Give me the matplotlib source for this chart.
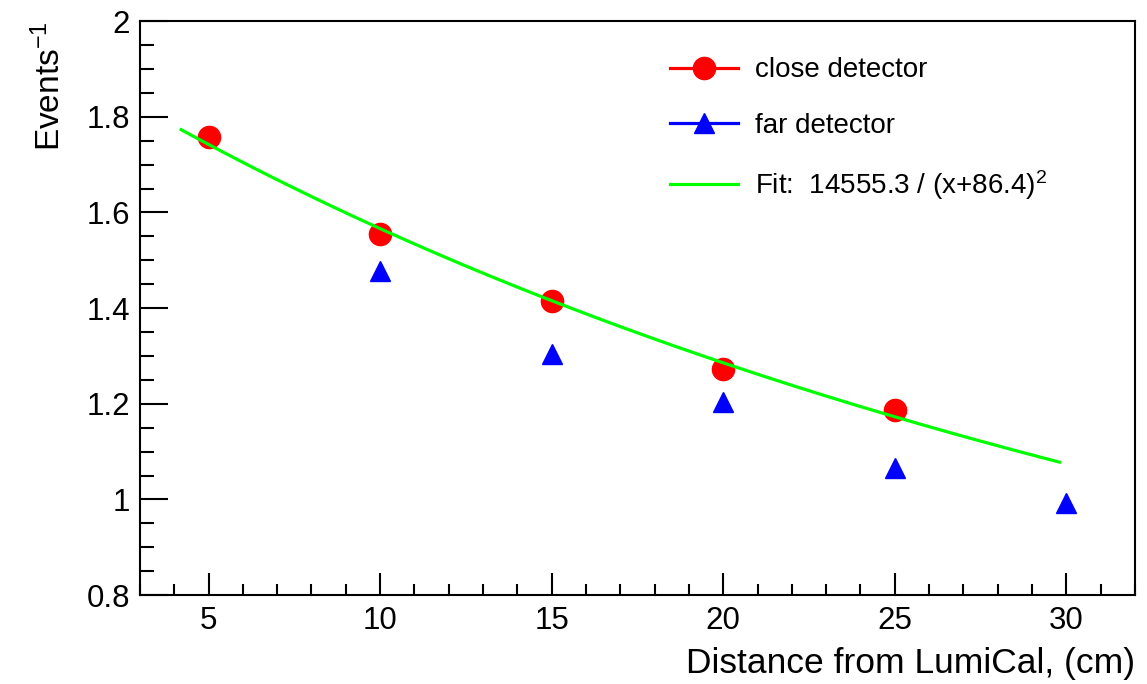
import numpy as np
import matplotlib
matplotlib.use('Agg')
import matplotlib.pyplot as plt
from matplotlib.lines import Line2D
from matplotlib.ticker import MultipleLocator

# ── Data ──────────────────────────────────────────────────────────────────────
close_x = [5, 10, 15, 20, 25]
close_y = [1.757, 1.556, 1.414, 1.273, 1.187]

far_x = [10, 15, 20, 25, 30]
far_y = [1.477, 1.305, 1.204, 1.066, 0.993]

FIT_A = 14555.3
FIT_B = 86.4
FIT_RANGE = (4.2, 29.8)

RED, BLUE, GREEN = '#ff0000', '#0000ff', '#00ff00'

# ── Style ─────────────────────────────────────────────────────────────────────
plt.rcParams['font.family'] = ['Liberation Sans', 'DejaVu Sans']
plt.rcParams['mathtext.default'] = 'regular'

fig = plt.figure(figsize=(11.47, 6.84), dpi=100)
ax = fig.add_axes([0.122, 0.130, 0.8675, 0.839])

fit_x = np.linspace(*FIT_RANGE, 200)
fit_y = FIT_A / (fit_x + FIT_B) ** 2

ax.plot(fit_x, fit_y, color=GREEN, lw=2.3, zorder=3)
ax.plot(close_x, close_y, 'o', color=RED, ms=16, zorder=2)
ax.plot(far_x, far_y, '^', color=BLUE, ms=15, zorder=4)

ax.set_xlim(3, 32)
ax.set_ylim(0.8, 2.0)

ax.xaxis.set_major_locator(MultipleLocator(5))
ax.xaxis.set_minor_locator(MultipleLocator(1))
ax.yaxis.set_major_locator(MultipleLocator(0.2))
ax.yaxis.set_minor_locator(MultipleLocator(0.05))
ax.yaxis.set_major_formatter(plt.FuncFormatter(lambda v, _: '%g' % round(v, 2)))

ax.tick_params(axis='both', which='both', direction='in', top=False, right=False,
               width=1.5, labelsize=22.5)
ax.tick_params(axis='y', which='major', length=20, pad=7)
ax.tick_params(axis='y', which='minor', length=10)
ax.tick_params(axis='x', which='major', length=16, pad=8)
ax.tick_params(axis='x', which='minor', length=8)
for sp in ax.spines.values():
    sp.set_linewidth(1.5)

ax.set_xlabel('Distance from LumiCal, (cm)', fontsize=25.5, loc='right', labelpad=8)
ax.set_ylabel('Events$^{-1}$', fontsize=24, loc='top', labelpad=14)

# ── Legend (no frame, ROOT-like handles) ──────────────────────────────────────
leg_handles = [
    Line2D([], [], color=RED, marker='o', ms=16, lw=2.3),
    Line2D([], [], color=BLUE, marker='^', ms=15, lw=2.3),
    Line2D([], [], color=GREEN, lw=2.3),
]
leg_labels = ['close detector', 'far detector',
              'Fit:  %.1f / (x+%.1f)$^{2}$' % (FIT_A, FIT_B)]
ax.legend(leg_handles, leg_labels, loc='upper left',
          bbox_to_anchor=(0.584, 0.916), bbox_transform=fig.transFigure,
          frameon=False, fontsize=20, handlelength=2.45, handletextpad=0.6,
          labelspacing=1.05, borderpad=0, borderaxespad=0)

fig.savefig('out.png', dpi=100)
